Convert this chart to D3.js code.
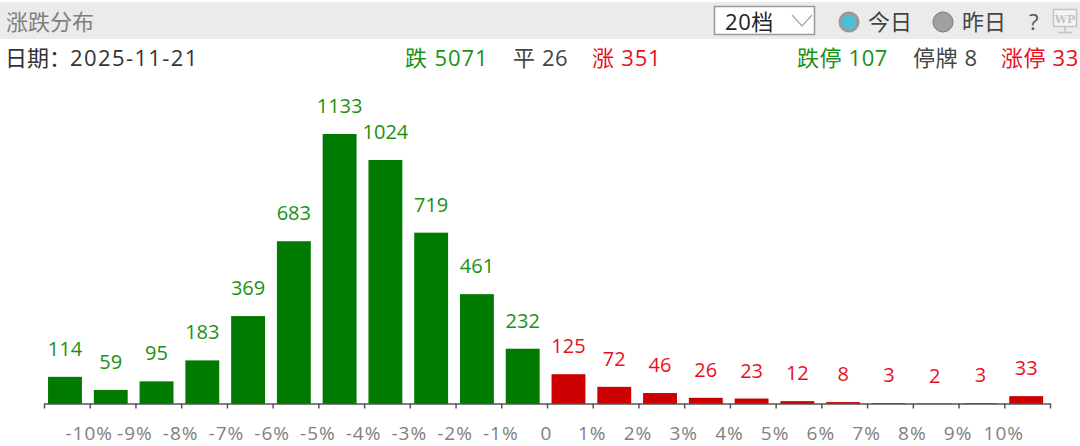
<!DOCTYPE html>
<html>
<head>
<meta charset="utf-8">
<script src="https://cdn.jsdelivr.net/npm/d3@7"></script>
<style>
html, body { margin: 0; padding: 0; background: #fff; }
svg { display: block; }
text { font-family: "Open Sans", "Noto Sans CJK SC", sans-serif; }
</style>
</head>
<body>
<div id="chart"></div>
<script>
var values = [114, 59, 95, 183, 369, 683, 1133, 1024, 719, 461, 232, 125, 72, 46, 26, 23, 12, 8, 3, 2, 3, 33];
// first 11 buckets are falling, the rest rising
var fallCount = 11;
var tickLabels = ['', '-10%', '-9%', '-8%', '-7%', '-6%', '-5%', '-4%', '-3%', '-2%', '-1%', '0',
  '1%', '2%', '3%', '4%', '5%', '6%', '7%', '8%', '9%', '10%', ''];

var green = '#007a00', greenText = '#1a9112', red = '#cc0000', redText = '#e8101c';
var width = 1080, height = 446;

var svg = d3.select('#chart').append('svg')
  .attr('width', width)
  .attr('height', height);

// header strip
svg.append('rect').attr('x', 0).attr('y', 2).attr('width', width).attr('height', 37).attr('fill', '#ebebeb');
function label(x, y, s, fill, spacing) {
  return svg.append('text').attr('x', x).attr('y', y).attr('fill', fill)
    .attr('font-size', 22).attr('letter-spacing', spacing || 0).text(s);
}
label(6, 30, '涨跌分布', '#808080');

svg.append('rect').attr('x', 714.5).attr('y', 6.5).attr('width', 100).attr('height', 28)
  .attr('fill', '#fff').attr('stroke', '#999').attr('stroke-width', 1.5);
label(725, 30, '20档', '#222', 0.6);
svg.append('path').attr('d', 'M792,15 L802,26 L812,15').attr('fill', 'none').attr('stroke', '#aaa').attr('stroke-width', 1.3);

svg.append('circle').attr('cx', 849).attr('cy', 22).attr('r', 9).attr('fill', '#4bbfd6').attr('stroke', '#999').attr('stroke-width', 3);
label(868, 30, '今日', '#444');
svg.append('circle').attr('cx', 943).attr('cy', 22).attr('r', 10).attr('fill', '#a0a0a0').attr('stroke', '#777').attr('stroke-width', 1);
label(962, 30, '昨日', '#444');
label(1029, 30, '?', '#555');

// WP monitor icon
svg.append('rect').attr('x', 1053.5).attr('y', 9.5).attr('width', 23).attr('height', 17).attr('fill', '#f4f4f4').attr('stroke', '#c4c4c4').attr('stroke-width', 1.5);
svg.append('text').attr('x', 1065).attr('y', 23).attr('text-anchor', 'middle').attr('fill', '#c4c4c4')
  .attr('font-size', 11).attr('font-weight', 700).style('font-family', '"DejaVu Serif"').text('WP');
svg.append('path').attr('d', 'M1065,27 V32 M1058,32.5 H1072').attr('stroke', '#c4c4c4').attr('stroke-width', 1.5);

// summary row
var dateText = label(5, 66, '日期：', '#333');
dateText.append('tspan').attr('x', 70).attr('letter-spacing', 1.4).text('2025-11-21');
label(405, 66, '跌 5071', greenText, 0.9);
label(513, 66, '平 26', '#444', 0.6);
label(592, 66, '涨 351', redText, 0.8);
label(797, 66, '跌停 107', greenText, 0.6);
label(913, 66, '停牌 8', '#444', 0.6);
label(1001, 66, '涨停 33', redText, 0.6);

// scales
var x = d3.scaleBand().domain(d3.range(values.length)).range([44, 1051]).paddingInner(0.26).paddingOuter(0.13).align(0.34);
var y = d3.scaleLinear().domain([0, 1133]).range([404, 134]);
var tickX = d3.scaleLinear().domain([0, values.length]).range([44, 1050]);

var plot = svg.append('g');
plot.selectAll('rect').data(values).enter().append('rect')
  .attr('x', function (d, i) { return x(i); })
  .attr('y', function (d) { return y(d); })
  .attr('width', x.bandwidth())
  .attr('height', function (d) { return y(0) - y(d); })
  .attr('fill', function (d, i) { return i < fallCount ? green : red; });

plot.selectAll('text').data(values).enter().append('text')
  .attr('x', function (d, i) { return x(i) + x.bandwidth() / 2; })
  .attr('y', function (d) { return y(d) - 21; })
  .attr('text-anchor', 'middle')
  .attr('font-size', 20)
  .attr('fill', function (d, i) { return i < fallCount ? greenText : redText; })
  .text(function (d) { return d; });

// axis
var axis = d3.axisBottom(tickX)
  .tickValues(d3.range(values.length + 1))
  .tickFormat(function (d) { return tickLabels[d]; })
  .tickSize(5)
  .tickSizeOuter(0)
  .tickPadding(18);
var axisG = svg.append('g').attr('transform', 'translate(0,403.5)').call(axis);
axisG.select('.domain').attr('stroke', '#555').attr('stroke-width', 1.5);
axisG.selectAll('.tick line').attr('stroke', '#555').attr('stroke-width', 1.5);
axisG.selectAll('.tick text').attr('fill', '#808080').attr('font-size', 19).attr('letter-spacing', 1).attr('dx', -1)
  .style('font-family', '"Open Sans", "Noto Sans CJK SC", sans-serif');
</script>
</body>
</html>
